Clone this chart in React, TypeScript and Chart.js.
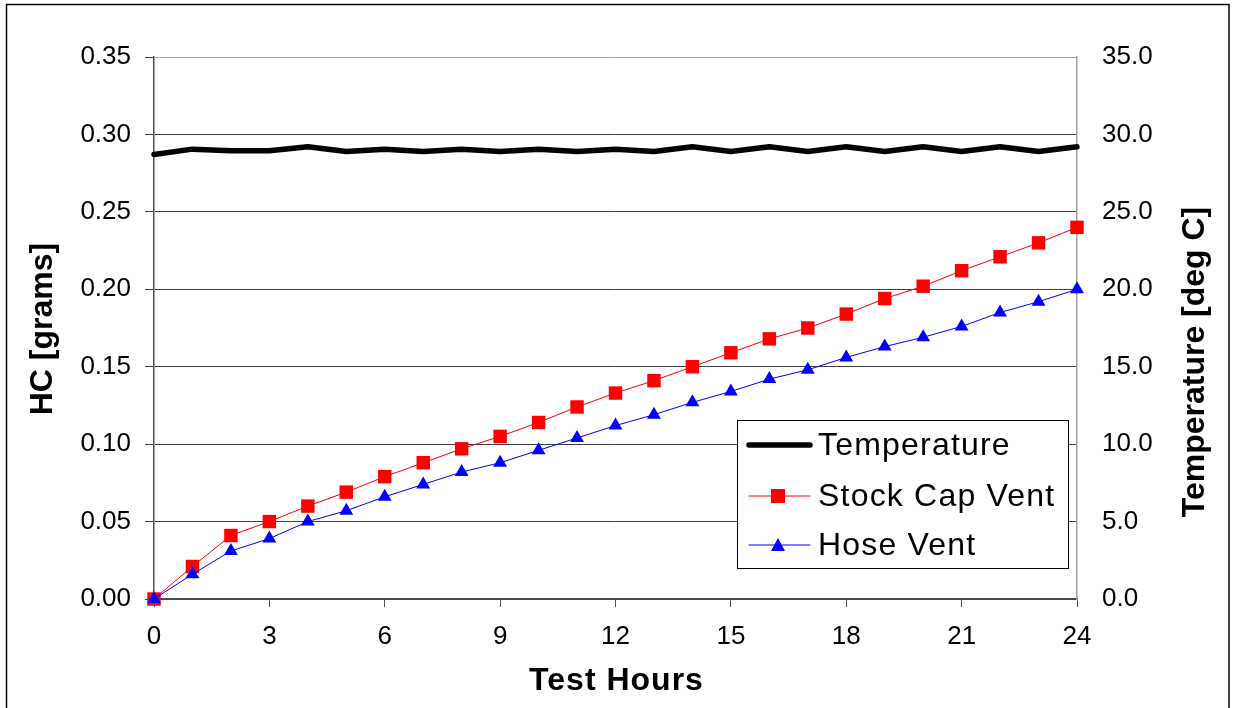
import React, { useEffect, useRef } from 'react';
import { Chart, registerables } from 'chart.js';

Chart.register(...registerables);

const hours = [0, 1, 2, 3, 4, 5, 6, 7, 8, 9, 10, 11, 12, 13, 14, 15, 16, 17, 18, 19, 20, 21, 22, 23, 24];
const temperature = [28.7, 29.05, 28.95, 28.95, 29.2, 28.9, 29.05, 28.9, 29.05, 28.9, 29.05, 28.9, 29.05, 28.9, 29.2, 28.9, 29.2, 28.9, 29.2, 28.9, 29.2, 28.9, 29.2, 28.9, 29.2];
const stockCapVent = [0, 0.021, 0.041, 0.05, 0.06, 0.069, 0.079, 0.088, 0.097, 0.105, 0.114, 0.124, 0.133, 0.141, 0.15, 0.159, 0.168, 0.175, 0.184, 0.194, 0.202, 0.212, 0.221, 0.23, 0.24];
const hoseVent = [0, 0.016, 0.031, 0.039, 0.05, 0.057, 0.066, 0.074, 0.082, 0.088, 0.096, 0.104, 0.112, 0.119, 0.127, 0.134, 0.142, 0.148, 0.156, 0.163, 0.169, 0.176, 0.185, 0.192, 0.2];

const seriesNames = ['Temperature', 'Stock Cap Vent', 'Hose Vent'];
const xTitle = 'Test Hours';
const yLeftTitle = 'HC [grams]';
const yRightTitle = 'Temperature [deg C]';

const FONT = '"Liberation Sans", Arial, sans-serif';

const decorPlugin = {
  id: 'decor',
  beforeDraw(chart: any) {
    const ctx = chart.ctx;
    ctx.save();
    ctx.fillStyle = '#ffffff';
    ctx.fillRect(0, 0, chart.width, chart.height);
    ctx.strokeStyle = '#000000';
    ctx.lineWidth = 1.5;
    ctx.strokeRect(6.5, 4.5, 1222.5, 720);
    ctx.restore();
  },
  afterDraw(chart: any) {
    const ctx = chart.ctx;
    const area = chart.chartArea;
    ctx.save();
    // axis titles
    ctx.fillStyle = '#000';
    ctx.font = `bold 32px ${FONT}`;
    ctx.textAlign = 'center';
    ctx.textBaseline = 'alphabetic';
    (ctx as any).letterSpacing = '1px';
    ctx.fillText(xTitle, (area.left + area.right) / 2 + 1, 690);
    (ctx as any).letterSpacing = '0px';

    ctx.save();
    ctx.translate(52, 329);
    ctx.rotate(-Math.PI / 2);
    ctx.fillText(yLeftTitle, 0, 0);
    ctx.restore();

    ctx.save();
    ctx.translate(1204, 362);
    ctx.rotate(-Math.PI / 2);
    ctx.fillText(yRightTitle, 0, 0);
    ctx.restore();

    // legend
    const lx = 737, ly = 420, lw = 331, lh = 148;
    ctx.fillStyle = '#ffffff';
    ctx.fillRect(lx, ly, lw, lh);
    ctx.strokeStyle = '#000';
    ctx.lineWidth = 1;
    ctx.strokeRect(lx + 0.5, ly + 0.5, lw, lh);

    const rows = [445, 496, 545];
    const order = [0, 1, 2];
    ctx.font = `32px ${FONT}`;
    ctx.textAlign = 'left';
    ctx.textBaseline = 'middle';
    (ctx as any).letterSpacing = '1.2px';
    order.forEach((di, i) => {
      const ds = chart.data.datasets[di];
      const y = rows[i];
      ctx.strokeStyle = ds.borderColor;
      ctx.lineWidth = ds.borderWidth;
      ctx.lineCap = 'round';
      ctx.beginPath();
      ctx.moveTo(749, y);
      ctx.lineTo(810, y);
      ctx.stroke();
      const cx = 778;
      ctx.fillStyle = ds.pointBackgroundColor || ds.borderColor;
      if (ds.pointStyle === 'rect') {
        ctx.fillRect(cx - 7, y - 7, 14, 14);
      } else if (ds.pointStyle === 'triangle') {
        ctx.beginPath();
        ctx.moveTo(cx, y - 7);
        ctx.lineTo(cx + 7, y + 6);
        ctx.lineTo(cx - 7, y + 6);
        ctx.closePath();
        ctx.fill();
      }
      ctx.fillStyle = '#000';
      ctx.fillText(ds.label, 818, y + 1);
    });
    ctx.restore();
  },
};

export default function App() {
  const canvasRef = useRef<HTMLCanvasElement>(null);

  useEffect(() => {
    const toXY = (vals: number[]) => hours.map((h, i) => ({ x: h, y: vals[i] }));
    const chart = new Chart(canvasRef.current as HTMLCanvasElement, {
      type: 'line',
      data: {
        datasets: [
          {
            label: seriesNames[0],
            data: toXY(temperature),
            yAxisID: 'y1',
            borderColor: '#000000',
            backgroundColor: '#000000',
            borderWidth: 5.5,
            pointRadius: 0,
            borderJoinStyle: 'round',
            borderCapStyle: 'round',
            clip: false,
            order: 0,
          },
          {
            label: seriesNames[1],
            data: toXY(stockCapVent),
            yAxisID: 'y',
            borderColor: '#ff0000',
            backgroundColor: '#ff0000',
            pointBackgroundColor: '#ff0000',
            pointBorderColor: '#ff0000',
            borderWidth: 1,
            pointStyle: 'rect',
            pointRadius: 9.5,
            pointBorderWidth: 0,
            clip: false,
            order: 2,
          },
          {
            label: seriesNames[2],
            data: toXY(hoseVent),
            yAxisID: 'y',
            borderColor: '#0000ff',
            backgroundColor: '#0000ff',
            pointBackgroundColor: '#0000ff',
            pointBorderColor: '#0000ff',
            borderWidth: 1,
            pointStyle: 'triangle',
            pointRadius: 8,
            pointBorderWidth: 0,
            clip: false,
            order: 1,
          },
        ] as any,
      },
      options: {
        animation: false,
        responsive: false,
        maintainAspectRatio: false,
        layout: { padding: { top: 57, left: 0, right: 0, bottom: 0 } },
        plugins: { legend: { display: false }, tooltip: { enabled: false } },
        scales: {
          x: {
            type: 'linear',
            min: 0,
            max: 24,
            afterFit: (s: any) => { s.height = 109; },
            ticks: { stepSize: 3, color: '#000', font: { family: FONT, size: 26 }, padding: 14, maxRotation: 0 },
            grid: { drawOnChartArea: false, drawTicks: true, tickLength: 8, color: '#505050' },
            border: { color: '#505050', width: 1.5 },
          },
          y: {
            position: 'left',
            min: 0,
            max: 0.35,
            afterFit: (s: any) => { s.width = 154; },
            ticks: {
              stepSize: 0.05,
              color: '#000',
              font: { family: FONT, size: 26 },
              padding: 14,
              callback: (v: any) => Number(v).toFixed(2),
            },
            grid: {
              color: (c: any) => (c.tick && Math.abs(c.tick.value - 0.35) < 1e-9 ? '#a0a0a0' : '#404040'),
              tickColor: '#404040',
              tickLength: 9,
              lineWidth: 1,
            },
            border: { color: '#505050', width: 1.5 },
          },
          y1: {
            position: 'right',
            min: 0,
            max: 35,
            afterFit: (s: any) => { s.width = 156; },
            ticks: {
              stepSize: 5,
              color: '#000',
              font: { family: FONT, size: 26 },
              padding: 25,
              callback: (v: any) => Number(v).toFixed(1),
            },
            grid: { drawOnChartArea: false, drawTicks: false },
            border: { color: '#a0a0a0', width: 1.5 },
          },
        },
      } as any,
      plugins: [decorPlugin],
    });
    return () => chart.destroy();
  }, []);

  return (
    <div style={{ position: 'absolute', left: 0, top: 0, width: 1233, height: 708, background: '#fff' }}>
      <canvas ref={canvasRef} width={1233} height={708} style={{ display: 'block', width: 1233, height: 708 }} />
    </div>
  );
}
